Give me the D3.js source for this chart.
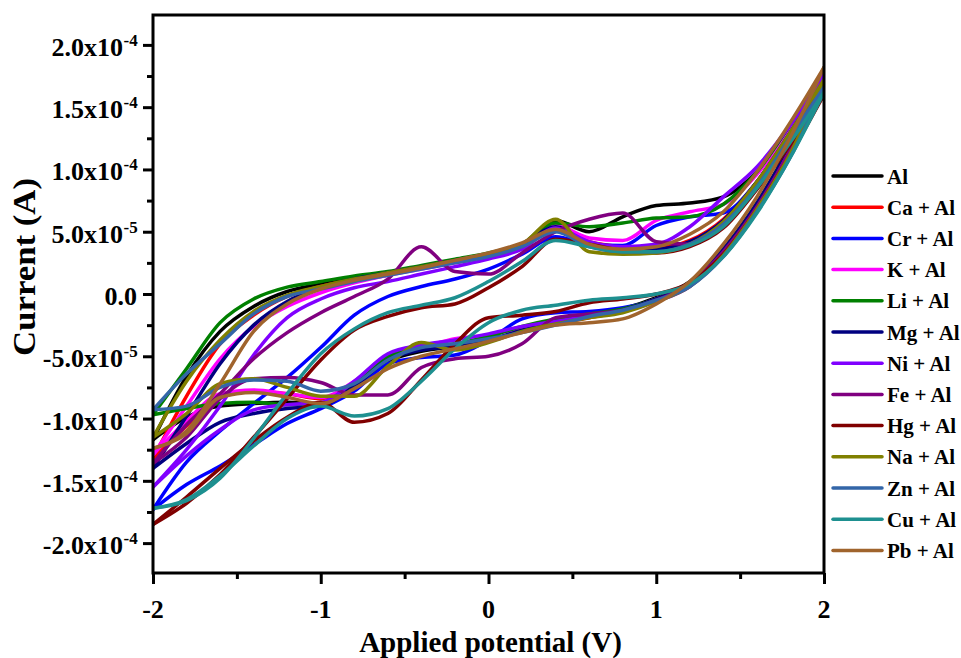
<!DOCTYPE html>
<html>
<head>
<meta charset="utf-8">
<script src="https://cdn.jsdelivr.net/npm/d3@7"></script>
<style>
  body { margin: 0; background: #fff; }
  text { font-family: "Liberation Serif", "Times New Roman", serif; font-weight: bold; }
</style>
</head>
<body>
<div id="chart"></div>
<script>
// applied potential grid (V), shared by every scan
const potential = [-2, -1.8, -1.6, -1.4, -1.2, -1, -0.8, -0.6, -0.4, -0.2, 0, 0.2, 0.4, 0.6, 0.8, 1, 1.2, 1.4, 1.6, 1.8, 2]

// series names + colours (legend order)
const names = ['Al', 'Ca + Al', 'Cr + Al', 'K + Al', 'Li + Al', 'Mg + Al', 'Ni + Al', 'Fe + Al', 'Hg + Al', 'Na + Al', 'Zn + Al', 'Cu + Al', 'Pb + Al']
const colors = ['#000000', '#ff0000', '#0000ff', '#ff00ff', '#008000', '#000080', '#8000ff', '#800080', '#800000', '#808000', '#3366a8', '#1e9090', '#a0642d']

// current in units of 1e-5 A, forward scan (-2 -> 2) read on the potential grid
const forward = [
  [-11.7, -6.6, -3.0, -1.0, 0.2, 0.8, 1.3, 1.7, 2.2, 2.7, 3.2, 4.0, 5.9, 5.0, 6.2, 7.1, 7.3, 7.8, 9.8, 13.2, 17.8],
  [-13.2, -8.2, -4.0, -1.7, -0.2, 0.6, 1.2, 1.7, 2.2, 2.7, 3.2, 4.0, 5.6, 4.2, 3.8, 3.7, 4.3, 6.0, 9.0, 13.0, 17.2],
  [-17.3, -13.5, -11.0, -8.8, -6.7, -4.3, -1.7, -0.2, 0.6, 1.2, 2.0, 3.2, 4.6, 4.0, 3.9, 5.5, 6.2, 6.5, 9.0, 13.0, 17.0],
  [-12.9, -9.0, -5.2, -2.6, -1.0, 0.1, 0.9, 1.5, 2.0, 2.5, 3.0, 3.8, 5.5, 4.5, 4.3, 5.9, 6.6, 7.2, 9.6, 13.3, 17.4],
  [-9.7, -6.0, -2.3, -0.4, 0.55, 1.0, 1.45, 1.8, 2.3, 2.8, 3.3, 4.0, 5.7, 5.4, 5.7, 6.1, 6.2, 7.2, 9.8, 13.6, 17.6],
  [-14.0, -9.8, -5.6, -2.5, -0.6, 0.5, 1.2, 1.7, 2.2, 2.7, 3.2, 4.0, 5.4, 4.0, 3.6, 3.6, 4.2, 5.9, 9.0, 13.0, 17.2],
  [-15.5, -12.5, -9.0, -4.9, -1.9, -0.4, 0.5, 1.0, 1.6, 2.2, 2.8, 3.6, 5.3, 4.2, 3.8, 4.0, 5.4, 7.8, 10.2, 13.6, 17.6],
  [-13.6, -10.5, -8.0, -5.2, -3.1, -1.5, -0.2, 1.2, 3.8, 1.8, 1.6, 3.3, 5.0, 6.0, 6.5, 4.2, 4.0, 5.7, 8.8, 12.8, 17.0],
  [-18.5, -16.8, -14.5, -11.5, -8.4, -5.3, -2.9, -1.8, -1.1, -0.8, 0.5, 2.2, 4.4, 4.0, 3.5, 3.3, 3.8, 5.3, 8.4, 12.0, 16.0],
  [-11.5, -7.0, -3.7, -1.4, -0.1, 0.6, 1.2, 1.7, 2.2, 2.7, 3.2, 4.0, 6.0, 3.4, 3.2, 3.3, 4.0, 5.8, 9.0, 13.0, 17.2],
  [-9.3, -6.4, -4.0, -1.6, -0.2, 0.4, 1.0, 1.5, 2.0, 2.5, 3.0, 3.8, 5.0, 3.8, 3.4, 3.4, 4.0, 5.6, 8.6, 12.6, 16.6],
  [-17.2, -16.6, -14.8, -11.6, -8.0, -4.8, -2.8, -1.5, -0.9, -0.3, 1.0, 2.6, 4.3, 3.8, 3.4, 3.4, 3.9, 5.4, 8.5, 12.2, 16.2],
  [-12.4, -11.0, -7.2, -3.0, -0.8, 0.4, 1.1, 1.6, 2.1, 2.7, 3.3, 4.1, 5.2, 4.0, 3.6, 3.8, 4.8, 6.6, 9.8, 13.8, 18.2]
]

// reverse scan (2 -> -2), also listed on the potential grid from -2 up to 2
const reverse = [
  [-11.7, -9.9, -9.0, -8.8, -8.7, -8.8, -7.4, -5.4, -4.6, -4.2, -3.7, -3.0, -2.3, -1.7, -1.2, -0.3, 1.0, 3.6, 7.3, 12.0, 17.8],
  [-13.2, -10.6, -8.3, -7.8, -8.0, -8.4, -7.2, -5.2, -4.4, -4.1, -3.7, -3.0, -2.4, -1.9, -1.4, -0.4, 0.9, 3.5, 7.2, 11.8, 17.2],
  [-17.3, -15.3, -13.8, -12.1, -10.4, -9.2, -7.8, -5.6, -5.1, -4.9, -3.7, -2.0, -1.5, -1.4, -1.1, -0.5, 0.7, 3.2, 6.8, 11.5, 17.0],
  [-12.9, -10.2, -8.0, -7.7, -8.0, -8.3, -7.0, -4.9, -4.3, -3.6, -3.3, -2.7, -2.2, -1.8, -1.3, -0.4, 0.9, 3.5, 7.2, 11.9, 17.4],
  [-9.7, -9.2, -8.8, -8.7, -8.9, -8.8, -7.2, -5.0, -4.3, -4.0, -3.4, -2.6, -2.0, -1.6, -1.2, -0.4, 0.9, 3.5, 7.2, 11.9, 17.6],
  [-14.0, -12.0, -10.3, -9.6, -9.2, -9.0, -7.4, -5.3, -4.5, -4.2, -3.7, -2.9, -2.3, -1.8, -1.3, -0.4, 0.9, 3.6, 7.3, 11.9, 17.2],
  [-15.5, -13.0, -10.9, -9.3, -8.9, -8.7, -7.0, -4.8, -4.1, -3.7, -3.2, -2.6, -2.2, -1.8, -1.4, -0.6, 0.6, 3.3, 6.9, 11.6, 17.6],
  [-13.6, -11.5, -8.4, -6.8, -6.7, -7.1, -8.1, -8.1, -5.9, -5.2, -5.0, -4.0, -1.9, -1.6, -1.3, -0.5, 0.8, 3.4, 7.0, 11.6, 17.0],
  [-18.5, -16.3, -14.0, -11.8, -9.9, -8.7, -10.3, -9.6, -6.9, -4.0, -1.9, -1.7, -1.4, -0.7, -0.4, 0.0, 0.9, 3.2, 6.8, 11.2, 16.0],
  [-11.5, -9.6, -7.2, -6.8, -7.5, -8.2, -8.2, -5.8, -3.9, -4.5, -3.9, -3.0, -2.4, -1.9, -1.5, -0.6, 0.6, 3.1, 6.8, 11.3, 17.2],
  [-9.3, -9.0, -7.5, -6.9, -7.0, -7.8, -7.2, -5.3, -4.3, -4.0, -3.6, -3.1, -2.5, -1.8, -1.3, -0.5, 0.6, 3.0, 6.6, 11.0, 16.6],
  [-17.2, -16.5, -14.6, -12.2, -10.0, -9.0, -9.8, -9.2, -7.0, -4.4, -2.3, -1.3, -0.9, -0.5, -0.3, 0.0, 0.8, 3.0, 6.5, 11.0, 16.2],
  [-12.4, -11.2, -8.3, -7.9, -8.3, -8.8, -7.6, -6.0, -5.0, -4.4, -3.8, -3.1, -2.5, -2.3, -2.0, -0.8, 1.0, 4.0, 7.8, 12.6, 18.2]
]

const unit = 1e-5
const yTicks = [-2e-4, -1.5e-4, -1e-4, -5e-5, 0, 5e-5, 1e-4, 1.5e-4, 2e-4]
const xTicks = [-2, -1, 0, 1, 2]

;(() => {
  let width = 961
  let height = 658
  let plotLeft = 153, plotRight = 824, plotTop = 15, plotBottom = 573

  let svg = d3.select('#chart')
    .append('svg')
      .attr('width', width)
      .attr('height', height)

  svg.append('rect').attr('width', width).attr('height', height).attr('fill', '#fff')

  let xScale = d3.scaleLinear().domain([-2, 2]).range([plotLeft, plotRight])
  let yScale = d3.scaleLinear().domain([-2.24e-4, 2.24e-4]).range([plotBottom, plotTop])

  svg.append('clipPath').attr('id', 'clip')
    .append('rect')
      .attr('x', plotLeft).attr('y', plotTop)
      .attr('width', plotRight - plotLeft).attr('height', plotBottom - plotTop)

  // each loop = forward branch + reverse branch (both walk the potential grid)
  let branches = []
  names.forEach((name, i) => {
    branches.push({ color: colors[i], pts: potential.map((p, k) => [p, forward[i][k] * unit]) })
    branches.push({ color: colors[i], pts: potential.map((p, k) => [p, reverse[i][k] * unit]) })
  })

  let line = d3.line()
    .x(d => xScale(d[0]))
    .y(d => yScale(d[1]))
    .curve(d3.curveMonotoneX)

  svg.append('g')
    .attr('clip-path', 'url(#clip)')
    .selectAll('path')
    .data(branches)
    .enter()
    .append('path')
      .attr('d', d => line(d.pts))
      .attr('fill', 'none')
      .attr('stroke', d => d.color)
      .attr('stroke-width', 3.5)
      .attr('stroke-linejoin', 'round')
      .attr('stroke-linecap', 'round')

  // minor ticks
  let yMinor = [-1.75e-4, -1.25e-4, -7.5e-5, -2.5e-5, 2.5e-5, 7.5e-5, 1.25e-4, 1.75e-4]
  let xMinor = [-1.5, -0.5, 0.5, 1.5]

  let styleAxis = g => {
    g.select('.domain').remove()
    g.selectAll('line').attr('stroke', '#000').attr('stroke-width', 3)
    g.selectAll('text').remove()
  }

  svg.append('g').attr('transform', `translate(${plotLeft},0)`)
    .call(d3.axisLeft(yScale).tickValues(yTicks).tickSize(10)).call(styleAxis)
  svg.append('g').attr('transform', `translate(${plotLeft},0)`)
    .call(d3.axisLeft(yScale).tickValues(yMinor).tickSize(6)).call(styleAxis)
  svg.append('g').attr('transform', `translate(0,${plotBottom})`)
    .call(d3.axisBottom(xScale).tickValues(xTicks).tickSize(11)).call(styleAxis)
  svg.append('g').attr('transform', `translate(0,${plotBottom})`)
    .call(d3.axisBottom(xScale).tickValues(xMinor).tickSize(6)).call(styleAxis)

  // frame
  svg.append('rect')
    .attr('x', plotLeft).attr('y', plotTop)
    .attr('width', plotRight - plotLeft).attr('height', plotBottom - plotTop)
    .attr('fill', 'none')
    .attr('stroke', '#000')
    .attr('stroke-width', 3)

  // y tick labels like 5.0x10^-5 (mantissa and exponent as two texts)
  let yLabels = svg.append('g')
  yTicks.forEach(v => {
    let y = yScale(v)
    if (v === 0) {
      yLabels.append('text')
        .attr('x', 137).attr('y', y + 11)
        .attr('text-anchor', 'end')
        .attr('font-size', 26)
        .text('0.0')
      return
    }
    let exp = Math.floor(Math.log10(Math.abs(v)) + 1e-9)
    let mant = v / Math.pow(10, exp)
    yLabels.append('text')
      .attr('x', 123).attr('y', y + 11)
      .attr('text-anchor', 'end')
      .attr('font-size', 26)
      .text(mant.toFixed(1) + 'x10')
    yLabels.append('text')
      .attr('x', 123.5).attr('y', y + 1)
      .attr('font-size', 17)
      .text(exp)
  })

  svg.append('g')
    .selectAll('text')
    .data(xTicks)
    .enter()
    .append('text')
      .attr('x', d => xScale(d))
      .attr('y', 618)
      .attr('text-anchor', 'middle')
      .attr('font-size', 26)
      .text(d => d)

  svg.append('text')
    .attr('x', (plotLeft + plotRight) / 2 + 2)
    .attr('y', 652)
    .attr('text-anchor', 'middle')
    .attr('font-size', 29)
    .text('Applied potential (V)')

  svg.append('text')
    .attr('transform', 'translate(35,267) rotate(-90)')
    .attr('text-anchor', 'middle')
    .attr('font-size', 31)
    .attr('textLength', 178)
    .attr('lengthAdjust', 'spacingAndGlyphs')
    .text('Current (A)')

  // legend
  let legend = svg.append('g')
    .selectAll('g')
    .data(names)
    .enter()
    .append('g')
      .attr('transform', (d, i) => `translate(833,${176 + i * 31.2})`)

  legend.append('line')
    .attr('x1', 0).attr('x2', 49)
    .attr('stroke', (d, i) => colors[i])
    .attr('stroke-width', 3.5)
    .attr('stroke-linecap', 'round')

  legend.append('text')
    .attr('x', 54)
    .attr('dy', '0.36em')
    .attr('font-size', 21)
    .text(d => d)
})()
</script>
</body>
</html>
